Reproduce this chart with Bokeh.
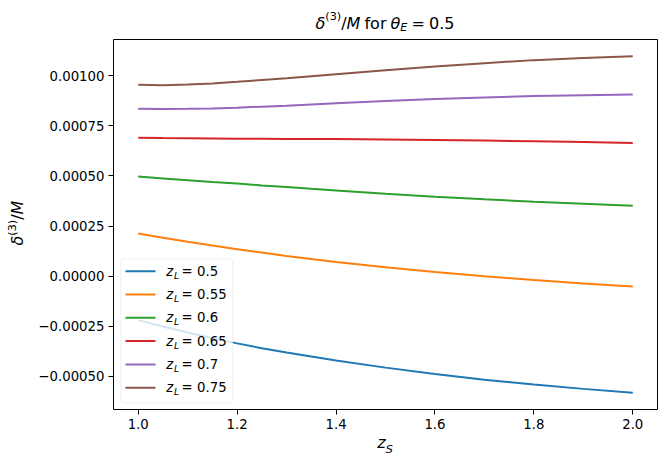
import math
from bokeh.plotting import figure
from bokeh.models import (Range1d, FixedTicker, CustomJSTickFormatter,
                          LabelSet, ColumnDataSource, BoxAnnotation, Arrow, Div)
from bokeh.layouts import column, row
from bokeh.core.properties import value, field
from bokeh.embed import file_html
from bokeh.resources import INLINE

z_S = [1.0, 1.05, 1.1, 1.15, 1.2, 1.25, 1.3, 1.35, 1.4,
       1.5, 1.6, 1.7, 1.8, 1.9, 2.0]
z_L = [0.5, 0.55, 0.6, 0.65, 0.7, 0.75]
delta_zL_050 = [-0.000219, -0.000251, -0.000281, -0.000309, -0.000335, -0.000359,
                -0.000381, -0.000401, -0.000420, -0.000456, -0.000488, -0.000516,
                -0.000540, -0.000562, -0.000581]
delta_zL_055 = [0.000213, 0.000192, 0.000172, 0.000153, 0.000135, 0.000118,
                0.000101, 0.000086, 0.000071, 0.000045, 0.000021, 0.000000,
                -0.000019, -0.000036, -0.000051]
delta_zL_060 = [0.000497, 0.000488, 0.000479, 0.000470, 0.000462, 0.000453,
                0.000445, 0.000436, 0.000428, 0.000412, 0.000397, 0.000384,
                0.000372, 0.000362, 0.000352]
delta_zL_065 = [0.000691, 0.000689, 0.000688, 0.000687, 0.000686, 0.000686,
                0.000685, 0.000685, 0.000684, 0.000682, 0.000680, 0.000677,
                0.000673, 0.000669, 0.000664]
delta_zL_070 = [0.000835, 0.000834, 0.000835, 0.000837, 0.000841, 0.000846,
                0.000851, 0.000857, 0.000863, 0.000874, 0.000884, 0.000892,
                0.000899, 0.000903, 0.000906]
delta_zL_075 = [0.000955, 0.000953, 0.000956, 0.000962, 0.000970, 0.000979,
                0.000988, 0.000998, 0.001008, 0.001028, 0.001046, 0.001063,
                0.001078, 0.001089, 0.001097]
x_ticks = [1.0, 1.2, 1.4, 1.6, 1.8, 2.0]
y_ticks = [-0.0005, -0.00025, 0.0, 0.00025, 0.0005, 0.00075, 0.001]
theta_E = 0.5

series = [delta_zL_050, delta_zL_055, delta_zL_060,
          delta_zL_065, delta_zL_070, delta_zL_075]
colors = ["#1f77b4", "#ff7f0e", "#2ca02c", "#d62728", "#9467bd", "#8c564b"]

xmin, xmax = min(z_S), max(z_S)
ymin = min(min(s) for s in series)
ymax = max(max(s) for s in series)
xpad = 0.05 * (xmax - xmin)
ypad = 0.05 * (ymax - ymin)

FONT = "DejaVu Sans"
TITLE_H, YLAB_W, XLAB_H = 35, 34, 35
FW, FH = 544, 370

p = figure(width=671 - YLAB_W, height=4 + FH + 25, output_backend="svg",
           toolbar_location=None,
           x_range=Range1d(xmin - xpad, xmax + xpad),
           y_range=Range1d(ymin - ypad, ymax + ypad),
           min_border_left=113 - YLAB_W, min_border_right=14,
           min_border_top=4, min_border_bottom=25, margin=0)
p.title.text = ""
p.outline_line_color = "black"
p.outline_line_width = 1
p.xgrid.visible = False
p.ygrid.visible = False

for s, c in zip(series, colors):
    p.line(z_S, s, line_color=c, line_width=2)

p.xaxis.ticker = FixedTicker(ticks=x_ticks)
p.yaxis.ticker = FixedTicker(ticks=y_ticks)
p.xaxis.formatter = CustomJSTickFormatter(code="return tick.toFixed(1);")
p.yaxis.formatter = CustomJSTickFormatter(
    code="return (tick < 0 ? '\\u2212' : '') + Math.abs(tick).toFixed(5);")
for ax in (p.xaxis, p.yaxis):
    ax.axis_line_color = None
    ax.major_tick_out = 5
    ax.major_tick_in = 0
    ax.major_tick_line_width = 1
    ax.major_tick_line_color = "black"
    ax.minor_tick_line_color = None
    ax.major_label_text_font = FONT
    ax.major_label_text_font_size = "13.3px"
    ax.major_label_text_color = "black"
    ax.major_label_standoff = 4


def text_set(segs):
    src = ColumnDataSource(dict(
        x=[s[1] for s in segs], y=[s[2] for s in segs],
        text=[s[0] for s in segs],
        size=[f"{s[3]}px" for s in segs], style=[s[4] for s in segs]))
    return LabelSet(x="x", y="y", text="text", source=src,
                    x_units="screen", y_units="screen",
                    text_font=value(FONT), text_font_size=field("size"),
                    text_font_style=field("style"), text_color="black",
                    text_align="left", text_baseline="alphabetic")


# ---------------- legend ----------------
box = BoxAnnotation(left=7.3, right=119.3, bottom=6.7, top=150.7,
                    left_units="screen", right_units="screen",
                    bottom_units="screen", top_units="screen",
                    fill_color="white", fill_alpha=0.8,
                    line_color="#cccccc", line_width=1, border_radius=3)
p.add_layout(box)
row0, step = 138.3, 23.3
leg = []
for i, (z, c) in enumerate(zip(z_L, colors)):
    ry = row0 - i * step
    p.add_layout(Arrow(end=None, start=None, x_start=12, y_start=ry,
                       x_end=42, y_end=ry, start_units="screen",
                       end_units="screen", line_color=c, line_width=2))
    by = ry - 4.5
    leg += [("z", 52.7, by, 13.3, "italic"), ("L", 60.5, by - 3, 9.3, "italic"),
            ("=", 68.0, by, 13.3, "normal"), (f"{z}", 83.5, by, 13.3, "normal")]
p.add_layout(text_set(leg))

# ---------------- title and axis labels as real HTML text ----------------
BASE = (f"font-family:'{FONT}';color:black;font-size:16px;line-height:16px;"
        "white-space:nowrap;position:absolute;")
SUP = "font-size:11.2px;position:relative;"

title_html = (
    f'<div style="position:relative;width:671px;height:{TITLE_H}px;">'
    f'<span style="{BASE}left:385px;top:15.5px;transform:translateX(-50%);'
    'word-spacing:-1px;">'
    f'<i>δ</i><span style="{SUP}top:-8.5px;">(3)</span>/<i>M</i> for '
    f'<i>θ</i><i style="{SUP}top:2px;">E</i> = {theta_E}</span></div>')
title_div = Div(text=title_html, width=671, height=TITLE_H, margin=0)

ylab_html = (
    f'<div style="position:relative;width:{YLAB_W}px;height:{p.height}px;">'
    f'<span style="{BASE}left:19px;top:{222.5 - TITLE_H}px;'
    'transform:translate(-50%,-50%) rotate(-90deg);">'
    f'<i>δ</i><span style="{SUP}top:-7.5px;">(3)</span>/<i>M</i></span></div>')
ylab_div = Div(text=ylab_html, width=YLAB_W, height=p.height, margin=0)

xlab_top = TITLE_H + p.height
xlab_html = (
    f'<div style="position:relative;width:671px;height:{XLAB_H}px;">'
    f'<span style="{BASE}left:385px;top:{448.3 - xlab_top - 13.55}px;'
    'transform:translateX(-50%);">'
    f'<i>z</i><i style="{SUP}top:5px;">S</i></span></div>')
xlab_div = Div(text=xlab_html, width=671, height=XLAB_H, margin=0)

layout = column(title_div, row(ylab_div, p, spacing=0, margin=0), xlab_div,
                spacing=0, margin=0)

open("out.html", "w").write(file_html(layout, INLINE))
